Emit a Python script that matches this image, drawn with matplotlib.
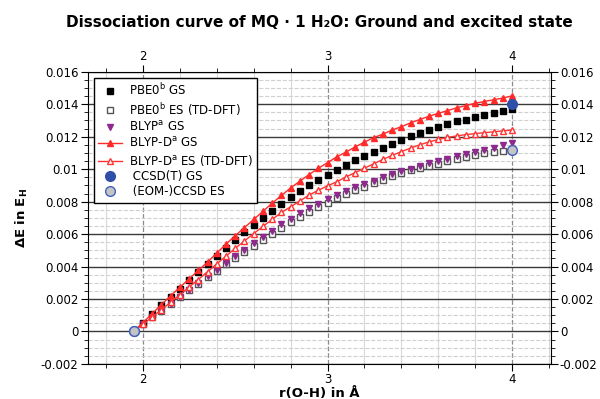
import matplotlib
matplotlib.use('Agg')
import matplotlib.pyplot as plt
from matplotlib.ticker import MultipleLocator, FormatStrFormatter


# DATA (energies in mE_H)
r = [1.95, 2.00, 2.05, 2.10, 2.15, 2.20, 2.25, 2.30, 2.35, 2.40, 2.45,
     2.50, 2.55, 2.60, 2.65, 2.70, 2.75, 2.80, 2.85, 2.90, 2.95, 3.00,
     3.05, 3.10, 3.15, 3.20, 3.25, 3.30, 3.35, 3.40, 3.45, 3.50, 3.55,
     3.60, 3.65, 3.70, 3.75, 3.80, 3.85, 3.90, 3.95, 4.00]

pbe0_gs = [0, 0.55, 1.08, 1.60, 2.12, 2.64, 3.15, 3.67, 4.18, 4.65, 5.14,
           5.62, 6.10, 6.56, 7.00, 7.42, 7.84, 8.26, 8.64, 9.02, 9.36, 9.66,
           9.98, 10.26, 10.56, 10.84, 11.06, 11.32, 11.55, 11.78, 12.04, 12.24, 12.42,
           12.58, 12.78, 12.94, 13.06, 13.22, 13.36, 13.47, 13.57, 13.70]
pbe0_es = [0, 0.43, 0.86, 1.28, 1.70, 2.12, 2.53, 2.94, 3.34, 3.74, 4.13,
           4.52, 4.90, 5.28, 5.65, 6.02, 6.38, 6.72, 7.05, 7.37, 7.67, 7.94,
           8.20, 8.45, 8.69, 8.92, 9.14, 9.35, 9.55, 9.74, 9.92, 10.05, 10.20,
           10.33, 10.50, 10.63, 10.76, 10.88, 10.98, 11.07, 11.15, 11.22]
blyp_gs = [0, 0.43, 0.86, 1.29, 1.71, 2.13, 2.55, 2.97, 3.39, 3.80, 4.22,
           4.62, 5.02, 5.42, 5.82, 6.22, 6.60, 6.96, 7.27, 7.58, 7.88, 8.19,
           8.42, 8.66, 8.88, 9.09, 9.30, 9.49, 9.68, 9.86, 10.03, 10.19, 10.35,
           10.50, 10.65, 10.79, 10.93, 11.07, 11.20, 11.33, 11.46, 11.60]
blypd_gs = [0, 0.55, 1.10, 1.65, 2.20, 2.72, 3.24, 3.76, 4.28, 4.83, 5.38,
            5.90, 6.40, 6.90, 7.40, 7.90, 8.38, 8.84, 9.26, 9.67, 10.05, 10.40,
            10.76, 11.05, 11.37, 11.67, 11.94, 12.16, 12.41, 12.62, 12.85, 13.06, 13.26,
            13.44, 13.61, 13.78, 13.92, 14.06, 14.17, 14.28, 14.38, 14.52]
blypd_es = [0, 0.44, 0.89, 1.34, 1.80, 2.26, 2.73, 3.20, 3.68, 4.16, 4.64,
            5.12, 5.58, 6.03, 6.47, 6.90, 7.33, 7.68, 8.04, 8.40, 8.70, 8.97,
            9.22, 9.52, 9.79, 10.06, 10.33, 10.60, 10.85, 11.08, 11.30, 11.50, 11.68,
            11.83, 11.96, 12.05, 12.13, 12.19, 12.25, 12.30, 12.36, 12.41]

r_cc = [1.95, 4.00]
ccsdt_gs = [0, 14.0]
eomccsd_es = [0, 11.2]

def eh(v):
    return [x / 1000.0 for x in v]


# PLOTTING
fig = plt.figure(figsize=(6, 3.99), dpi=100)
ax = fig.add_axes([0.146, 0.088, 0.772, 0.732])

ax.plot(r, eh(pbe0_gs), 's', color='black', ms=4.5, label=r'PBE0$^{\rm b}$ GS', zorder=4)
ax.plot(r, eh(pbe0_es), 's', mfc='white', mec='#555555', mew=1.0, ms=4.5,
        label=r'PBE0$^{\rm b}$ ES (TD-DFT)', zorder=3)
ax.plot(r, eh(blyp_gs), 'v', color='#8e2a8e', ms=4, label=r'BLYP$^{\rm a}$ GS', zorder=4)
ax.plot(r, eh(blypd_gs), '-^', color='#ff2a2a', lw=1.0, ms=4,
        label=r'BLYP-D$^{\rm a}$ GS', zorder=5)
ax.plot(r, eh(blypd_es), '-^', color='#ff3333', mfc='white', mec='#ff3333', lw=1.0, ms=4,
        label=r'BLYP-D$^{\rm a}$ ES (TD-DFT)', zorder=5)
ax.plot(r_cc, eh(ccsdt_gs), 'o', color='#2f4fa8', ms=7, label=' CCSD(T) GS', zorder=6)
ax.plot(r_cc, eh(eomccsd_es), 'o', mfc='#c4c4c4', mec='#4060c0', mew=1.0, ms=7,
        label=' (EOM-)CCSD ES', zorder=6)

ax.set_xlim(1.7, 4.21)
ax.set_ylim(-0.002, 0.016)
ax.xaxis.set_major_locator(MultipleLocator(1))
ax.xaxis.set_minor_locator(MultipleLocator(0.2))
ax.yaxis.set_major_locator(MultipleLocator(0.002))
ax.yaxis.set_minor_locator(MultipleLocator(0.0005))
ax.yaxis.set_major_formatter(FormatStrFormatter('%g'))
ax.xaxis.set_major_formatter(FormatStrFormatter('%g'))

ax.grid(True, which='major', axis='y', color='#3a3a3a', lw=1.0)
ax.grid(True, which='minor', axis='y', color='#d0d0d0', lw=0.8, ls='--')
ax.grid(True, which='major', axis='x', color='#8a8a8a', lw=0.9, ls='--')
ax.grid(True, which='minor', axis='x', color='#d8d8d8', lw=0.8)
ax.set_axisbelow(True)

ax.tick_params(which='both', direction='out', top=True, right=True,
               labeltop=True, labelright=True, labelsize=8.5, pad=1.5)
ax.tick_params(which='major', length=5)
ax.tick_params(which='minor', length=3)

ax.set_title('Dissociation curve of MQ · 1 H₂O: Ground and excited state',
             fontsize=11, fontweight='bold', pad=32)
ax.set_xlabel('r(O-H) in Å', fontsize=9.5, fontweight='bold', labelpad=1)
ax.set_ylabel(r'$\mathbf{\Delta E\ in\ E_H}$', fontsize=9.5, labelpad=8)

leg = ax.legend(loc='upper left', fontsize=8.5, frameon=True, fancybox=False,
                edgecolor='black', framealpha=1, handlelength=2.0,
                handletextpad=0.6, borderaxespad=0.5, labelspacing=0.2)
leg.get_frame().set_linewidth(1.0)

plt.savefig('out.png', dpi=100)
